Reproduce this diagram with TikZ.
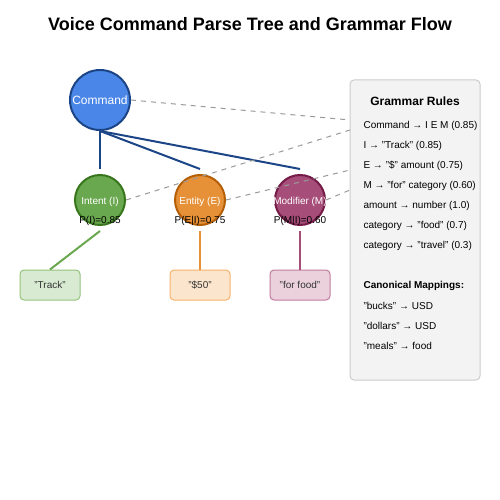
\documentclass[tikz,border=0pt]{standalone}
\usepackage{fontspec}
\setmainfont{Liberation Sans}
\usetikzlibrary{positioning}
\definecolor{cmdfill}{HTML}{4A86E8}
\definecolor{cmddraw}{HTML}{1C4587}
\definecolor{intfill}{HTML}{6AA84F}
\definecolor{intdraw}{HTML}{38761D}
\definecolor{entfill}{HTML}{E69138}
\definecolor{entdraw}{HTML}{B45F06}
\definecolor{modfill}{HTML}{A64D79}
\definecolor{moddraw}{HTML}{741B47}
\definecolor{inttok}{HTML}{D9EAD3}
\definecolor{inttokdraw}{HTML}{93C47D}
\definecolor{enttok}{HTML}{FCE5CD}
\definecolor{enttokdraw}{HTML}{F6B26B}
\definecolor{modtok}{HTML}{EAD1DC}
\definecolor{modtokdraw}{HTML}{C27BA0}
\definecolor{rulefill}{HTML}{F3F3F3}
\definecolor{ruledraw}{HTML}{CCCCCC}
\definecolor{flow}{HTML}{999999}
\definecolor{ink}{HTML}{333333}

\begin{document}
\begin{tikzpicture}[x=1pt,y=-1pt,node distance=100pt,
  phrase/.style={circle,line width=2pt,minimum size=50pt,inner sep=0pt,text=white,font=\fontsize{10}{12}\selectfont},
  token/.style={rectangle,rounded corners=4pt,line width=1pt,minimum width=60pt,minimum height=30pt,text=ink,font=\fontsize{10}{12}\selectfont},
  prob/.style={font=\fontsize{10}{12}\selectfont},
  rule/.style={anchor=west,font=\fontsize{10}{12}\selectfont},
  flowline/.style={draw=flow,line width=1pt,dash pattern=on 5pt off 5pt}]
\useasboundingbox (0,0) rectangle (500,500);

\node[font=\fontsize{18}{22}\bfseries](title) at (250,24){Voice Command Parse Tree and Grammar Flow};

\node[phrase,minimum size=60pt,fill=cmdfill,draw=cmddraw,font=\fontsize{12}{14}\selectfont](cmd) at (100,100){\makebox[0pt]{Command}};
\node[phrase,fill=intfill,draw=intdraw](int) at (100,200){\makebox[0pt]{\raisebox{-4.5pt}[0pt][0pt]{Intent (I)}}};
\node[phrase,fill=entfill,draw=entdraw](ent)[right of=int]{\makebox[0pt]{\raisebox{-4.5pt}[0pt][0pt]{Entity (E)}}};
\node[phrase,fill=modfill,draw=moddraw](mod)[right of=ent]{\makebox[0pt]{\raisebox{-4.5pt}[0pt][0pt]{Modifier (M)}}};

\node[prob](pint) at (100,221){P(I)=0.85};
\node[prob](pent) at (200,221){P(E|I)=0.75};
\node[prob](pmod) at (300,221){P(M|I)=0.60};

\node[token,fill=inttok,draw=inttokdraw](tint) at (50,285){"Track"};
\node[token,fill=enttok,draw=enttokdraw](tent) at (200,285){"\$50"};
\node[token,fill=modtok,draw=modtokdraw](tmod) at (300,285){"for food"};

\path[draw=cmddraw,line width=2pt]
  (cmd.south) edge ([yshift=5pt]int.north)
  (cmd.south) edge ([yshift=5pt]ent.north)
  (cmd.south) edge ([yshift=5pt]mod.north);

\draw[intfill,line width=2pt]([yshift=-5pt]int.south) -- (tint.north);
\draw[entfill,line width=2pt]([yshift=-5pt]ent.south) -- (tent.north);
\draw[modfill,line width=2pt]([yshift=-5pt]mod.south) -- (tmod.north);

% grammar box
\node[rectangle,rounded corners=4pt,fill=rulefill,draw=ruledraw,line width=1pt,minimum width=130pt,minimum height=300pt](rules) at (415,230){};
\coordinate (gin1) at (350,120);
\coordinate (gin2) at (350,130);
\coordinate (gin3) at (350,170);
\coordinate (gin4) at (350,190);

\draw[flowline](cmd.east) -- (gin1);
\draw[flowline](int.east) -- (gin2);
\draw[flowline](ent.east) -- (gin3);
\draw[flowline](mod.east) -- (gin4);

\node[font=\fontsize{12}{14}\bfseries](rtitle) at (415,101){Grammar Rules};
\node[rule](r1) at (360,126){Command → I E M (0.85)};
\node[rule](r2) at (360,146){I → "Track" (0.85)};
\node[rule](r3) at (360,166){E → "\$" amount (0.75)};
\node[rule](r4) at (360,186){M → "for" category (0.60)};
\node[rule](r5) at (360,206){amount → number (1.0)};
\node[rule](r6) at (360,226){category → "food" (0.7)};
\node[rule](r7) at (360,246){category → "travel" (0.3)};
\node[rule,font=\fontsize{10}{12}\bfseries](ctitle) at (360,286){Canonical Mappings:};
\node[rule](c1) at (360,306){"bucks" → USD};
\node[rule](c2) at (360,326){"dollars" → USD};
\node[rule](c3) at (360,346){"meals" → food};

\end{tikzpicture}
\end{document}
